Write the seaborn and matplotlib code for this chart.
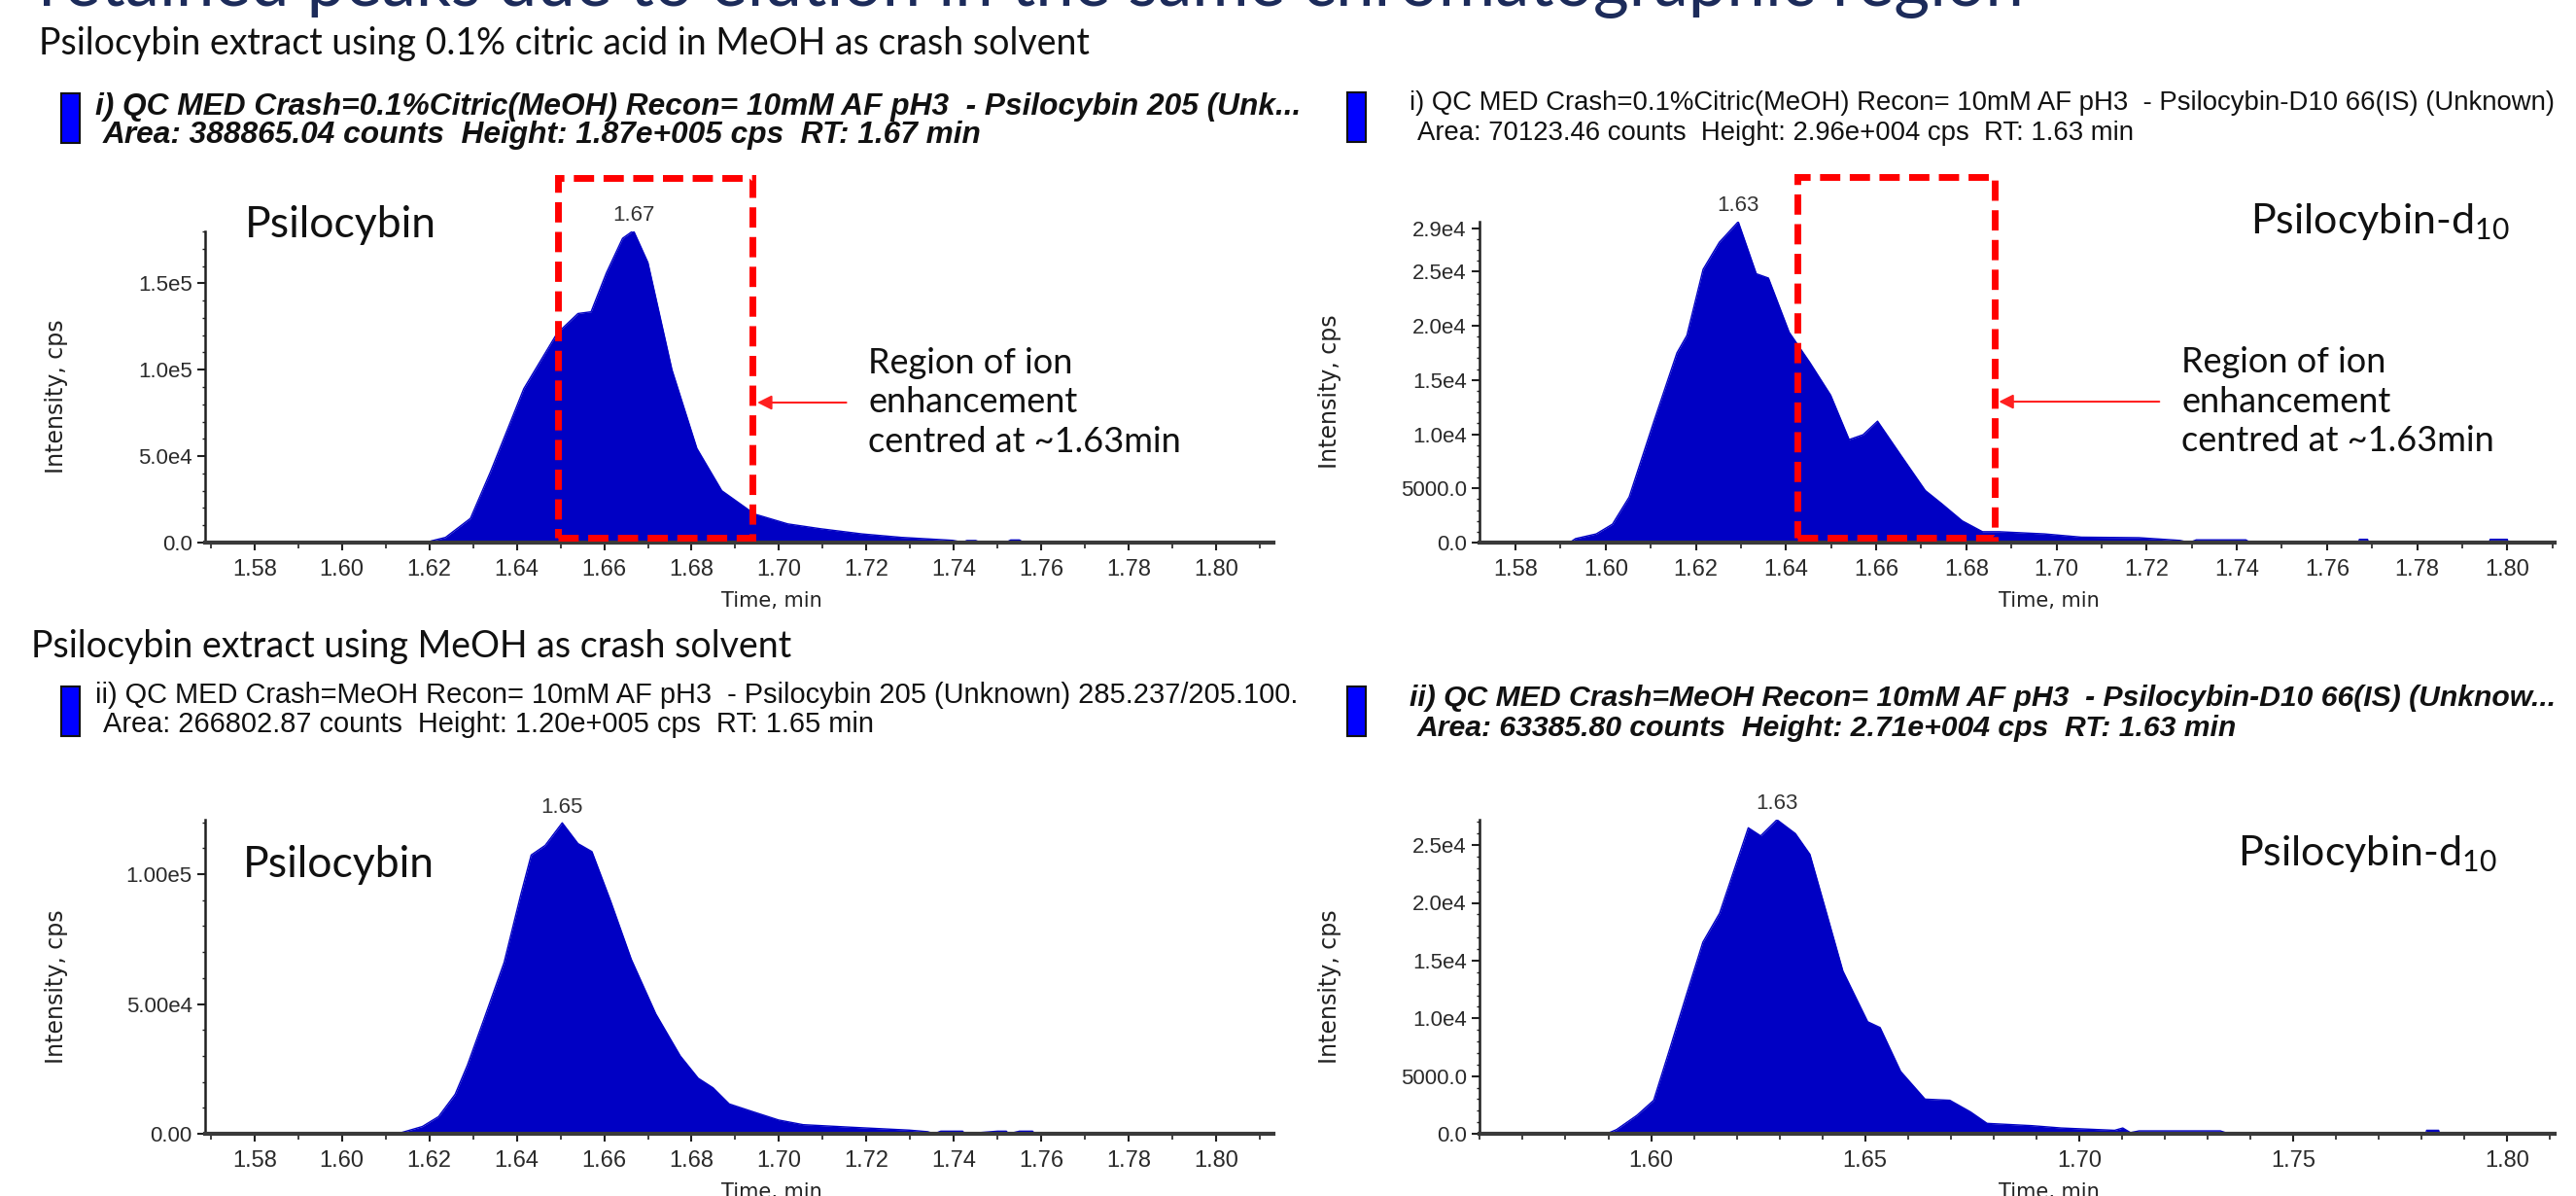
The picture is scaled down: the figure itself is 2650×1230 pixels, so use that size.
import matplotlib
matplotlib.use('Agg')
import matplotlib.pyplot as plt
from matplotlib.patches import Rectangle
from matplotlib.ticker import MultipleLocator
import seaborn as sns
import pandas as pd

# ---- chromatogram traces (time in min, intensity in cps) ----
tl_time = [1.6195, 1.6205, 1.6237, 1.6294, 1.634, 1.6416, 1.6492, 1.654, 1.657, 1.6605, 1.6642,
           1.6667, 1.670, 1.6755, 1.6812, 1.6869, 1.6944, 1.702, 1.7095, 1.719, 1.728, 1.7397,
           1.742, 1.743, 1.745, 1.746, 1.752, 1.753, 1.755, 1.756]
tl_int = [0, 1000, 3000, 14000, 41000, 89000, 121000, 132500, 133500, 156000, 176000,
          180500, 162000, 100000, 54500, 30000, 16500, 10800, 8000, 5000, 3000, 1300,
          200, 1200, 1200, 200, 200, 1500, 1500, 0]

tr_time = [1.592, 1.5933, 1.5979, 1.6015, 1.6052, 1.6107, 1.6158, 1.618, 1.6216, 1.6252, 1.6294,
           1.6334, 1.6361, 1.6407, 1.6453, 1.6499, 1.654, 1.6571, 1.6603, 1.6654, 1.6709, 1.6745,
           1.6791, 1.6836, 1.6873, 1.6973, 1.7055, 1.7183, 1.7274, 1.7295, 1.731, 1.742, 1.743,
           1.767, 1.7672, 1.769, 1.7692, 1.796, 1.7962, 1.8, 1.8002]
tr_int = [0, 365, 800, 1700, 4200, 11200, 17500, 19100, 25200, 27700, 29600,
          24800, 24400, 19400, 16600, 13600, 9500, 9950, 11200, 8100, 4800, 3600,
          2000, 1000, 1000, 800, 500, 450, 200, 0, 250, 250, 0,
          0, 300, 300, 0, 0, 300, 300, 0]

bl_time = [1.6137, 1.6184, 1.6221, 1.6259, 1.6287, 1.6324, 1.6371, 1.6409, 1.6433, 1.6465, 1.6504,
           1.654, 1.6572, 1.6615, 1.6662, 1.6718, 1.6774, 1.6815, 1.6849, 1.6886, 1.6942, 1.6999,
           1.7055, 1.7167, 1.7298, 1.734, 1.7355, 1.737, 1.742, 1.7425, 1.750, 1.752, 1.7525,
           1.755, 1.758, 1.7585]
bl_int = [500, 2800, 6600, 15200, 26400, 43700, 66000, 92000, 107400, 111100, 119800,
          111800, 108700, 89500, 67200, 46200, 30000, 21400, 17700, 11500, 8400, 5300,
          3500, 2500, 1400, 800, 0, 1000, 1000, 0, 1000, 1000, 0,
          1000, 1000, 0]

br_time = [1.5896, 1.5919, 1.5967, 1.6006, 1.6044, 1.6083, 1.6121, 1.616, 1.6198, 1.6227, 1.6256,
           1.6294, 1.6337, 1.6371, 1.641, 1.6448, 1.6506, 1.6535, 1.6583, 1.664, 1.6698, 1.6746,
           1.6785, 1.689, 1.6958, 1.7083, 1.7102, 1.712, 1.714, 1.733, 1.735,
           1.781, 1.7812, 1.784, 1.7842]
br_int = [0, 360, 1600, 2900, 7400, 12100, 16600, 19100, 23300, 26500, 25800,
          27200, 26000, 24200, 19100, 14100, 9700, 9200, 5400, 3000, 2900, 1900,
          900, 700, 500, 300, 500, 100, 250, 250, 0,
          0, 300, 300, 0]

# ---- tick labels ----
tl_yticks = [0, 50000, 100000, 150000]
tl_ylabels = ['0.0', '5.0e4', '1.0e5', '1.5e5']
tr_yticks = [0, 5000, 10000, 15000, 20000, 25000, 29000]
tr_ylabels = ['0.0', '5000.0', '1.0e4', '1.5e4', '2.0e4', '2.5e4', '2.9e4']
bl_yticks = [0, 50000, 100000]
bl_ylabels = ['0.00', '5.00e4', '1.00e5']
br_yticks = [0, 5000, 10000, 15000, 20000, 25000]
br_ylabels = ['0.0', '5000.0', '1.0e4', '1.5e4', '2.0e4', '2.5e4']

# ---- peak apex labels ----
tl_peak = (1.6667, 180500, '1.67')
tr_peak = (1.6294, 29600, '1.63')
bl_peak = (1.6504, 119800, '1.65')
br_peak = (1.6294, 27200, '1.63')

# ---- text ----
page_title = 'retained peaks due to elution in the same chromatographic region'
sub_top = 'Psilocybin extract using 0.1% citric acid in MeOH as crash solvent'
sub_bottom = 'Psilocybin extract using MeOH as crash solvent'
hdr_tl = ['i) QC MED Crash=0.1%Citric(MeOH) Recon= 10mM AF pH3  - Psilocybin 205 (Unk...',
          'Area: 388865.04 counts  Height: 1.87e+005 cps  RT: 1.67 min']
hdr_tr = ['i) QC MED Crash=0.1%Citric(MeOH) Recon= 10mM AF pH3  - Psilocybin-D10 66(IS) (Unknown)',
          'Area: 70123.46 counts  Height: 2.96e+004 cps  RT: 1.63 min']
hdr_bl = ['ii) QC MED Crash=MeOH Recon= 10mM AF pH3  - Psilocybin 205 (Unknown) 285.237/205.100.',
          'Area: 266802.87 counts  Height: 1.20e+005 cps  RT: 1.65 min']
hdr_br = ['ii) QC MED Crash=MeOH Recon= 10mM AF pH3  - Psilocybin-D10 66(IS) (Unknow...',
          'Area: 63385.80 counts  Height: 2.71e+004 cps  RT: 1.63 min']
region_note = 'Region of ion\nenhancement\ncentred at ~1.63min'

BLUE = '#0000C4'

sns.set_style('ticks')
plt.rcParams['font.family'] = ['Liberation Sans', 'DejaVu Sans']
plt.rcParams['mathtext.fontset'] = 'custom'
plt.rcParams['mathtext.rm'] = 'Lato'
plt.rcParams['mathtext.it'] = 'Lato'

W, H = 2650, 1230
fig = plt.figure(figsize=(W / 100, H / 100), dpi=100)


def fx(x):
    return x / W


def fy(y):
    return 1 - y / H


def px_axes(x0, y0, x1, y1):
    return fig.add_axes([fx(x0), fy(y1), (x1 - x0) / W, (y1 - y0) / H])


def draw_chrom(ax, t, inten, xlim, ylim, xmajor, xminor, yticks, ylabels, yminor, peak):
    df = pd.DataFrame({'t': t, 'i': inten})
    ax.fill_between(df['t'], 0, df['i'], color=BLUE, lw=0)
    sns.lineplot(data=df, x='t', y='i', ax=ax, color=BLUE, lw=1, sort=False)
    ax.set_xlim(*xlim)
    ax.set_ylim(*ylim)
    ax.xaxis.set_major_locator(MultipleLocator(xmajor))
    ax.xaxis.set_minor_locator(MultipleLocator(xminor))
    ax.xaxis.set_major_formatter(matplotlib.ticker.FormatStrFormatter('%.2f'))
    ax.set_yticks(yticks)
    ax.set_yticklabels(ylabels)
    ax.yaxis.set_minor_locator(MultipleLocator(yminor))
    for s in ['top', 'right']:
        ax.spines[s].set_visible(False)
    ax.spines['left'].set_linewidth(1.8)
    ax.spines['left'].set_color('#202020')
    ax.spines['bottom'].set_linewidth(3)
    ax.spines['bottom'].set_color('#3a3a3a')
    ax.tick_params(axis='both', which='major', length=6, width=1.5, color='#202020',
                   labelsize=16, labelcolor='#2a2a2a')
    ax.tick_params(axis='x', which='major', labelsize=17, pad=6)
    ax.tick_params(axis='x', which='minor', length=4, width=1.2, color='#202020')
    ax.tick_params(axis='y', which='minor', length=2.5, width=1, color='#202020')
    ax.set_xlabel('Time, min', fontsize=15, family='DejaVu Sans', color='#222222')
    h_px = ax.get_position().height * H
    ax.xaxis.set_label_coords(0.53, -50 / h_px)
    ax.set_ylabel('Intensity, cps', fontsize=17, family='DejaVu Sans', color='#222222')
    ax.set_facecolor('none')
    pt, pi, lbl = peak
    ax.annotate(lbl, (pt, pi), xytext=(0, 4), textcoords='offset points', ha='center',
                va='bottom', fontsize=16, color='#333333', annotation_clip=False)


def header(x_rect, y_rect, x_txt, y1, y2, lines, bold, size):
    fig.add_artist(Rectangle((fx(x_rect), fy(y_rect + 51)), 19 / W, 51 / H,
                             transform=fig.transFigure, facecolor='#0000FF',
                             edgecolor='#111111', lw=1.5))
    kw = dict(fontsize=size, color='#111111', va='center')
    if bold:
        kw.update(fontweight='bold', style='italic')
    fig.text(fx(x_txt), fy(y1), lines[0], **kw)
    fig.text(fx(x_txt + 8), fy(y2), lines[1], **kw)


def region_box(ax, x0, x1, y0, y1, arrow_y, tail_x, text_x):
    ax.add_patch(Rectangle((x0, y0), x1 - x0, y1 - y0, fill=False, ec='#FF0000', lw=5,
                           ls=(0, (3, 1.4)), clip_on=False, zorder=5))
    ax.annotate('', xy=(x1 + 0.0004, arrow_y), xytext=(tail_x, arrow_y),
                arrowprops=dict(arrowstyle='-|>', color='#FF2020', lw=1.5, mutation_scale=22),
                annotation_clip=False)
    ax.text(text_x, arrow_y, region_note, family='Lato', fontsize=26, va='center', ha='left',
            linespacing=1.27, color='#111111')


# page title (cut by the top edge of the slide)
fig.text(fx(40), fy(6), page_title, family='Lato', fontsize=51, color='#1C2B5A', va='baseline')
fig.text(fx(40), fy(45), sub_top, family='Lato', fontsize=27, color='#111111', va='center')
fig.text(fx(32), fy(665), sub_bottom, family='Lato', fontsize=27, color='#111111', va='center')

header(63, 96, 98, 110, 139, hdr_tl, True, 22.8)
header(1386, 95, 1450, 106, 137, hdr_tr, False, 19.8)
header(63, 706, 98, 715, 745, hdr_bl, False, 20.9)
header(1386, 706, 1450, 718, 749, hdr_br, True, 21.7)

ax_tl = px_axes(211, 238, 1310, 558)
draw_chrom(ax_tl, tl_time, tl_int, (1.5687, 1.8131), (0, 180000), 0.02, 0.01, tl_yticks,
           tl_ylabels, 10000, tl_peak)
ax_tl.yaxis.set_label_coords(-0.128, 0.47)
region_box(ax_tl, 1.6494, 1.6940, 2800, 211000, 81000, 1.7160, 1.7204)

ax_tr = px_axes(1522, 228, 2628, 558)
draw_chrom(ax_tr, tr_time, tr_int, (1.5720, 1.8105), (0, 29600), 0.02, 0.01, tr_yticks,
           tr_ylabels, 1000, tr_peak)
ax_tr.yaxis.set_label_coords(-0.128, 0.47)
region_box(ax_tr, 1.6425, 1.6862, 450, 33700, 13000, 1.7234, 1.7278)

ax_bl = px_axes(211, 843, 1310, 1166)
draw_chrom(ax_bl, bl_time, bl_int, (1.5687, 1.8131), (0, 121000), 0.02, 0.01, bl_yticks,
           bl_ylabels, 10000, bl_peak)
ax_bl.yaxis.set_label_coords(-0.128, 0.47)

ax_br = px_axes(1522, 843, 2628, 1166)
draw_chrom(ax_br, br_time, br_int, (1.5599, 1.8111), (0, 27200), 0.05, 0.01, br_yticks,
           br_ylabels, 1000, br_peak)
ax_br.yaxis.set_label_coords(-0.128, 0.47)

# compound labels
fig.text(fx(252), fy(244), 'Psilocybin', family='Lato', fontsize=32, color='#111111', va='baseline')
fig.text(fx(250), fy(902), 'Psilocybin', family='Lato', fontsize=32, color='#111111', va='baseline')
fig.text(fx(2315), fy(240), r'Psilocybin-d$\mathregular{_{10}}$', family='Lato', fontsize=31,
         color='#111111', va='baseline')
fig.text(fx(2302), fy(890), r'Psilocybin-d$\mathregular{_{10}}$', family='Lato', fontsize=31,
         color='#111111', va='baseline')

fig.savefig('out.png', dpi=100)
